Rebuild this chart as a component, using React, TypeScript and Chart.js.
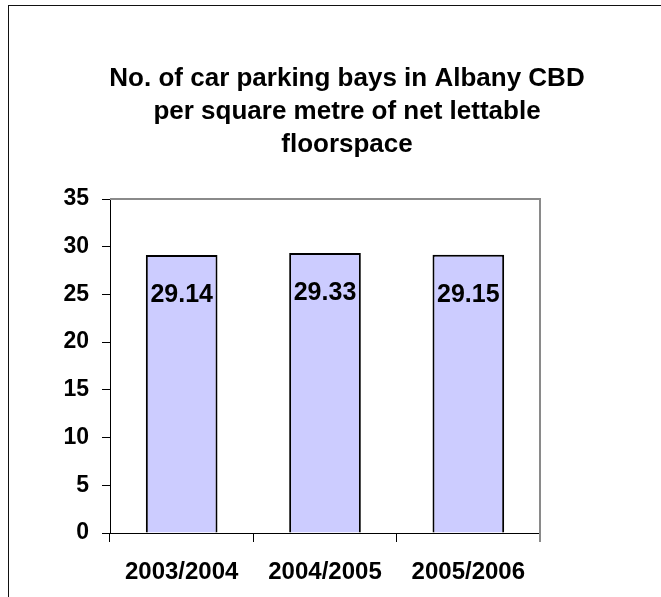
import React, { useEffect, useRef } from "react";
import { Chart, registerables } from "chart.js";

Chart.register(...registerables);

const categories = ["2003/2004", "2004/2005", "2005/2006"];
const values = [29.14, 29.33, 29.15];
const yMin = 0;
const yMax = 35;
const yStep = 5;
const titleLines = [
  "No. of car parking bays in Albany CBD",
  "per square metre of net lettable",
  "floorspace",
];

const FONT = "'Liberation Sans', Arial, sans-serif";

const decorPlugin = {
  id: "decor",
  beforeDraw(chart: any) {
    const ctx = chart.ctx;
    ctx.save();
    ctx.fillStyle = "#fff";
    ctx.fillRect(0, 0, chart.width, chart.height);
    ctx.strokeStyle = "#111";
    ctx.lineWidth = 1;
    ctx.strokeRect(8.5, 5.5, 1000, 1000);
    ctx.fillStyle = "#000";
    ctx.font = `bold 26px ${FONT}`;
    ctx.textAlign = "center";
    ctx.textBaseline = "alphabetic";
    titleLines.forEach((t, i) => ctx.fillText(t, 347, 86 + i * 33));
    ctx.restore();
  },
  afterDraw(chart: any) {
    const { left, top, right, bottom } = chart.chartArea;
    const ctx = chart.ctx;
    ctx.save();
    ctx.strokeStyle = "#8a8a8a";
    ctx.lineWidth = 2;
    ctx.beginPath();
    ctx.moveTo(left, top);
    ctx.lineTo(right, top);
    ctx.lineTo(right, bottom + 9);
    ctx.stroke();
    ctx.restore();
  },
  afterDatasetsDraw(chart: any) {
    const ctx = chart.ctx;
    const meta = chart.getDatasetMeta(0);
    ctx.save();
    ctx.fillStyle = "#000";
    ctx.font = `bold 25px ${FONT}`;
    ctx.textAlign = "center";
    ctx.textBaseline = "middle";
    meta.data.forEach((bar: any, i: number) => {
      ctx.fillText(values[i].toFixed(2), bar.x, bar.y + 40);
    });
    ctx.restore();
  },
};

export default function App() {
  const ref = useRef<HTMLCanvasElement | null>(null);
  useEffect(() => {
    if (!ref.current) return;
    const chart = new Chart(ref.current, {
      type: "bar",
      data: {
        labels: categories,
        datasets: [
          {
            data: values,
            backgroundColor: "#CCCCFF",
            borderColor: "#000",
            borderWidth: 2,
            barPercentage: 0.5,
            categoryPercentage: 1,
          },
        ],
      },
      options: {
        animation: false,
        responsive: false,
        devicePixelRatio: 1,
        layout: { padding: { left: 0, right: 121, top: 199, bottom: 0 } },
        plugins: { legend: { display: false }, title: { display: false }, tooltip: { enabled: false } },
        scales: {
          x: {
            grid: {
              offset: true,
              drawOnChartArea: false,
              drawTicks: true,
              tickLength: 9,
              color: "#000",
              lineWidth: 1,
            },
            border: { color: "#000", width: 1 },
            ticks: {
              color: "#000",
              font: { family: FONT, size: 24, weight: "bold" },
              padding: 16,
              maxRotation: 0,
            },
            afterFit: (s: any) => {
              s.height = 64;
            },
          },
          y: {
            min: yMin,
            max: yMax,
            grid: {
              drawOnChartArea: false,
              drawTicks: true,
              tickLength: 8,
              color: "#000",
              lineWidth: 1,
            },
            border: { color: "#000", width: 1 },
            ticks: {
              stepSize: yStep,
              color: "#000",
              font: { family: FONT, size: 23, weight: "bold" },
              padding: 13,
            },
            afterFit: (s: any) => {
              s.width = 110;
            },
          },
        },
      },
      plugins: [decorPlugin],
    });
    return () => chart.destroy();
  }, []);
  return (
    <div style={{ position: "fixed", left: 0, top: 0, width: 661, height: 597 }}>
      <canvas ref={ref} width={661} height={597} style={{ display: "block" }} />
    </div>
  );
}
